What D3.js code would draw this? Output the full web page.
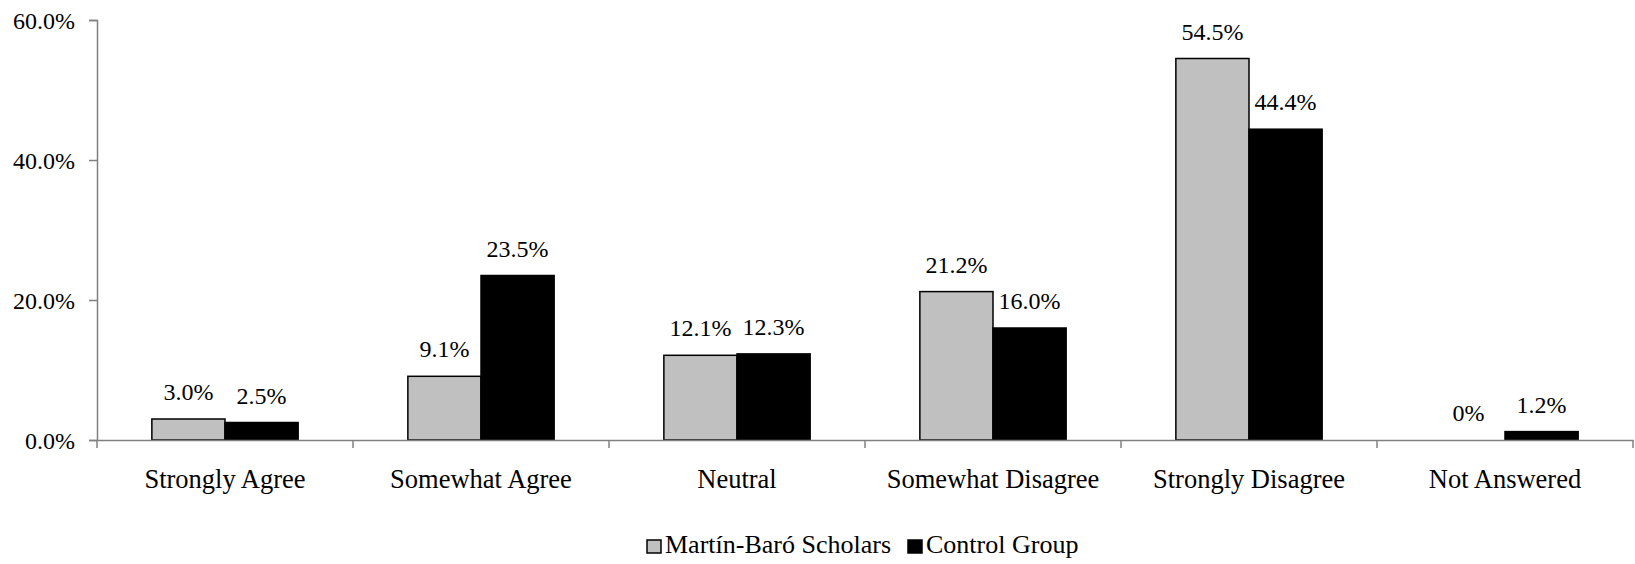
<!DOCTYPE html>
<html>
<head>
<meta charset="utf-8">
<script src="https://cdn.jsdelivr.net/npm/d3@7"></script>
<style>
  html, body { margin: 0; padding: 0; background: #fff; }
  svg text { font-family: "Liberation Serif", "Times New Roman", serif; fill: #000; }
</style>
</head>
<body>
<svg id="chart" width="1635" height="564"></svg>
<script>
const categories = ["Strongly Agree", "Somewhat Agree", "Neutral", "Somewhat Disagree", "Strongly Disagree", "Not Answered"];
const seriesNames = ["Martín-Baró Scholars", "Control Group"];
const scholarsValues = [3.0, 9.1, 12.1, 21.2, 54.5, 0];
const controlValues = [2.5, 23.5, 12.3, 16.0, 44.4, 1.2];
const scholarsLabels = ["3.0%", "9.1%", "12.1%", "21.2%", "54.5%", "0%"];
const controlLabels = ["2.5%", "23.5%", "12.3%", "16.0%", "44.4%", "1.2%"];
const yTicks = [0, 20, 40, 60];
const seriesColors = ["#c0c0c0", "#000000"];

(function () {
const svg = d3.select("#chart");
const mLeft = 97, mRight = 1633, mTop = 20, mBottom = 440;

const x = d3.scaleBand().domain(categories).range([mLeft, mRight]).paddingInner(0).paddingOuter(0);
const y = d3.scaleLinear().domain([0, 60]).range([mBottom, mTop]);
const x1 = d3.scaleBand().domain(seriesNames).range([0, x.bandwidth()]).paddingInner(0).paddingOuter(0.75);

const data = categories.map((c, i) => ({
  cat: c,
  vals: [
    { s: seriesNames[0], v: scholarsValues[i], label: scholarsLabels[i] },
    { s: seriesNames[1], v: controlValues[i], label: controlLabels[i] }
  ]
}));

// Y axis
const yAxis = d3.axisLeft(y).tickValues(yTicks).tickSize(8).tickPadding(14).tickFormat(d => d.toFixed(1) + "%");
const gy = svg.append("g").attr("transform", `translate(${mLeft},0)`).call(yAxis);
gy.attr("font-family", null);
gy.select(".domain").attr("stroke", "#808080").attr("stroke-width", 1.5);
gy.selectAll(".tick line").attr("stroke", "#808080").attr("stroke-width", 1.5);
gy.selectAll(".tick text").attr("font-size", "24px").attr("fill", "#000").attr("dy", "0.36em");

// Bars
const groups = svg.append("g").selectAll("g").data(data).join("g")
  .attr("transform", d => `translate(${x(d.cat)},0)`);

groups.selectAll("rect").data(d => d.vals.filter(v => v.v > 0)).join("rect")
  .attr("x", d => x1(d.s))
  .attr("width", x1.bandwidth())
  .attr("y", d => y(d.v))
  .attr("height", d => y(0) - y(d.v))
  .attr("fill", d => seriesColors[seriesNames.indexOf(d.s)])
  .attr("stroke", "#000")
  .attr("stroke-width", 1.5);

groups.selectAll("text").data(d => d.vals).join("text")
  .attr("x", d => x1(d.s) + x1.bandwidth() / 2)
  .attr("y", d => y(d.v) - 19)
  .attr("text-anchor", "middle")
  .attr("font-size", "24px")
  .text(d => d.label);

// X axis
const xAxis = d3.axisBottom(x).tickSize(0).tickPadding(0);
const gx = svg.append("g").attr("transform", `translate(0,${mBottom})`).call(xAxis);
gx.attr("font-family", null);
gx.select(".domain").attr("stroke", "#808080").attr("stroke-width", 1.5);
gx.selectAll(".tick text").attr("font-size", "26.5px").attr("fill", "#000").attr("y", 48).attr("dy", 0);
// category boundary ticks
const boundaries = d3.range(categories.length + 1).map(i => mLeft + i * x.bandwidth());
svg.append("g").selectAll("line").data(boundaries).join("line")
  .attr("x1", d => d).attr("x2", d => d)
  .attr("y1", mBottom).attr("y2", mBottom + 8)
  .attr("stroke", "#808080").attr("stroke-width", 1.5);

// Legend
const legend = svg.append("g");
const legendItems = [
  { name: seriesNames[0], color: seriesColors[0], x: 647 },
  { name: seriesNames[1], color: seriesColors[1], x: 908 }
];
legendItems.forEach(it => {
  legend.append("rect").attr("x", it.x).attr("y", 540).attr("width", 14).attr("height", 13)
    .attr("fill", it.color).attr("stroke", "#000").attr("stroke-width", 1.5);
  legend.append("text").attr("x", it.x + 18).attr("y", 553).attr("font-size", "26px").text(it.name);
});
})();
</script>
</body>
</html>
